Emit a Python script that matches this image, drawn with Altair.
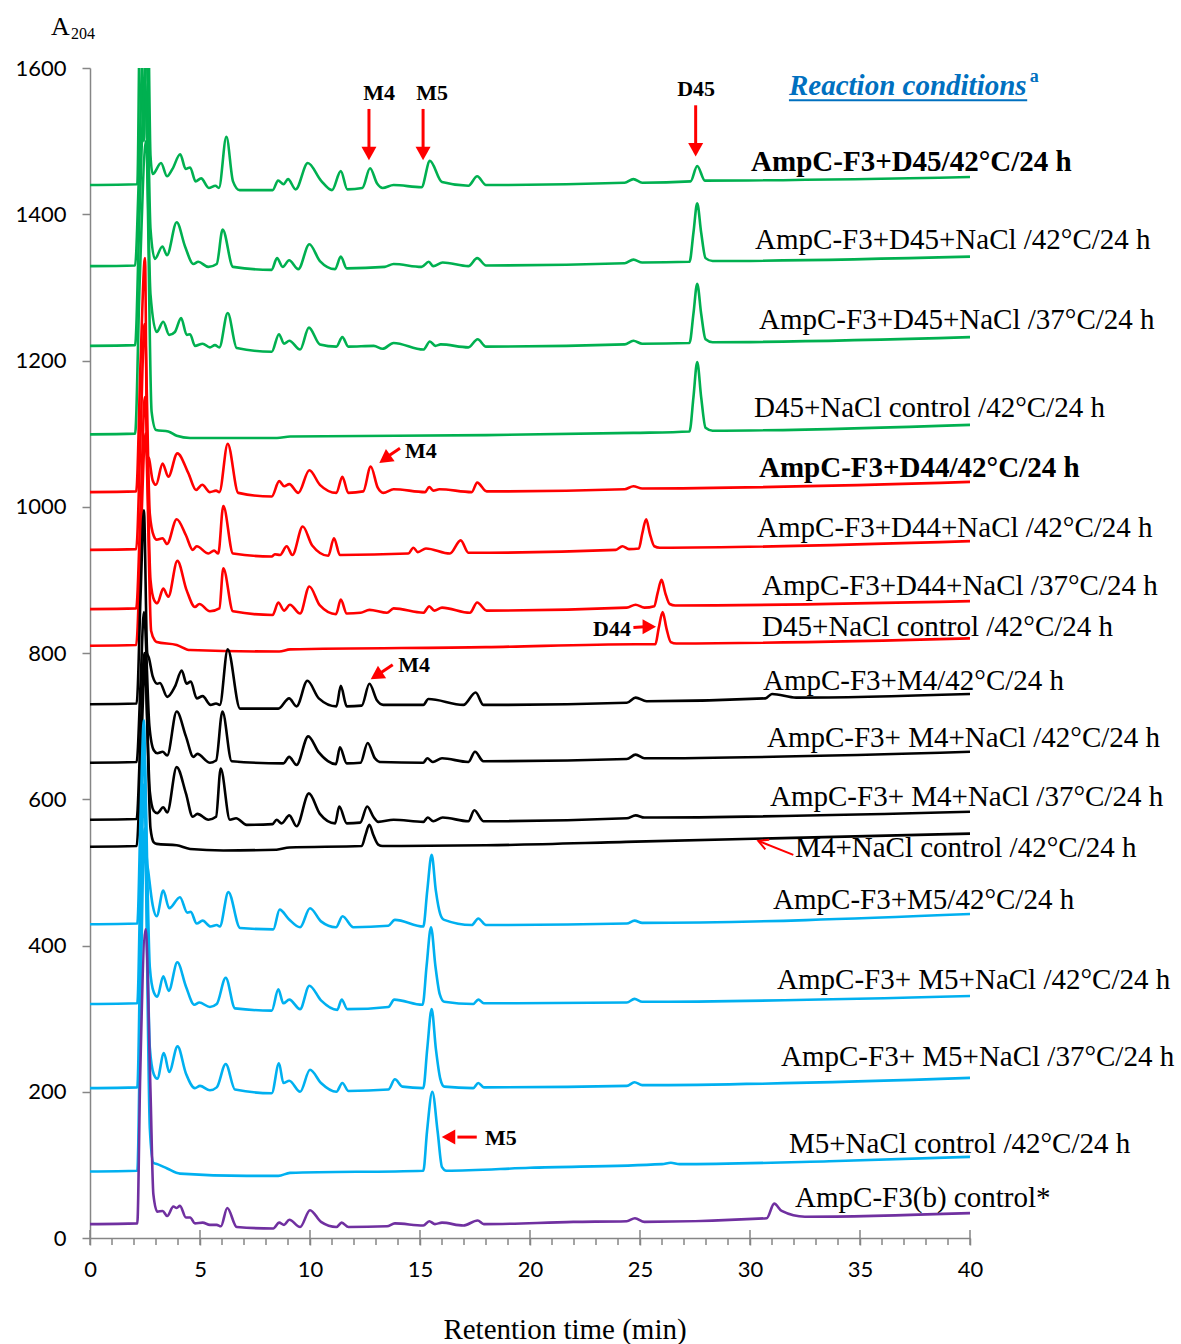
import altair as alt
import pandas as pd

# ---------------- data (time min, A204) ----------------
TRACE_IDS = ["t01", "t02", "t03", "t04", "t05", "t06", "t07", "t08", "t09",
             "t10", "t11", "t12", "t13", "t14", "t15", "t16", "t17"]
GREEN, RED, BLACK, BLUE, PURPLE = "#00B050", "#FF0000", "#000000", "#00B0F0", "#7030A0"
TRACE_COLORS = [GREEN] * 4 + [RED] * 4 + [BLACK] * 4 + [BLUE] * 4 + [PURPLE]

X_MAJOR = [0, 5, 10, 15, 20, 25, 30, 35, 40]
X_MINOR = list(range(0, 41))
Y_TICKS = [0, 200, 400, 600, 800, 1000, 1200, 1400, 1600]

T01 = [(0, 1440), (2.15, 1441), (2.3, 1750), (2.45, 1500), (2.6, 1750), (2.75, 1480), (2.85, 1455),
       (3.23, 1470), (3.5, 1452), (3.75, 1462), (4.1, 1482), (4.35, 1462), (4.55, 1464), (4.8, 1445),
       (5.05, 1449), (5.4, 1436), (5.7, 1439), (5.86, 1436), (6.2, 1506), (6.5, 1445), (6.8, 1433),
       (8.3, 1433), (8.55, 1446), (8.8, 1441), (9.0, 1448), (9.35, 1434), (9.9, 1470), (10.5, 1446),
       (11.0, 1433), (11.4, 1459), (11.7, 1434), (12.38, 1436), (12.73, 1463), (13.05, 1442),
       (13.3, 1436), (13.8, 1440),
       (15.07, 1437), (15.45, 1473), (16.0, 1444), (17.2, 1439), (17.6, 1452), (18.0, 1440),
       (24.3, 1443), (24.7, 1448), (25.1, 1443), (27.3, 1445), (27.6, 1466), (27.95, 1446), (40, 1451)]
T02 = [(0, 1329), (2.05, 1330), (2.22, 1450), (2.5, 1720), (2.75, 1380), (2.95, 1339),
       (3.29, 1356), (3.5, 1344), (3.94, 1389), (4.32, 1356), (4.7, 1332), (4.92, 1335), (5.38, 1328),
       (5.76, 1332), (6.03, 1379), (6.5, 1328), (8.26, 1324), (8.5, 1340), (8.76, 1328), (9.05, 1337),
       (9.47, 1325), (9.97, 1359), (10.45, 1336), (11.14, 1325), (11.4, 1342), (11.67, 1326),
       (13.4, 1328), (13.8, 1332), (15.07, 1328), (15.4, 1335), (15.6, 1329), (16.03, 1334),
       (17.2, 1329), (17.6, 1340), (18.0, 1330), (24.3, 1333), (24.7, 1338), (25.1, 1334),
       (27.25, 1335), (27.43, 1375), (27.6, 1415), (27.78, 1375), (27.98, 1340), (28.3, 1336), (40, 1342)]
T03 = [(0, 1220), (2.05, 1221), (2.25, 1400), (2.5, 1580), (2.75, 1290), (3.03, 1239),
       (3.33, 1253), (3.6, 1235), (3.86, 1239), (4.14, 1258), (4.4, 1235), (4.55, 1236), (4.77, 1220),
       (5.12, 1223), (5.45, 1218), (5.68, 1221), (5.88, 1218), (6.26, 1265), (6.67, 1217),
       (8.26, 1212), (8.59, 1236), (8.82, 1223), (9.06, 1227), (9.55, 1215), (9.95, 1245),
       (10.45, 1222), (11.2, 1219), (11.47, 1232), (11.74, 1219), (12.9, 1220), (13.3, 1216),
       (13.8, 1224), (15.15, 1215), (15.45, 1226), (15.7, 1220), (15.94, 1222), (17.2, 1218),
       (17.62, 1229), (18.0, 1219), (24.3, 1222), (24.7, 1227), (25.1, 1223),
       (27.25, 1224), (27.43, 1264), (27.6, 1305), (27.78, 1264), (27.98, 1229), (28.3, 1225), (40, 1232)]
T04 = [(0, 1099), (2.05, 1100), (2.25, 1300), (2.55, 1500), (2.8, 1130), (3.0, 1105),
       (3.56, 1103), (3.94, 1097), (4.55, 1094), (8.5, 1094), (9.1, 1096), (18, 1098), (24.7, 1101),
       (27.25, 1103), (27.43, 1150), (27.6, 1198), (27.78, 1150), (27.98, 1108), (28.3, 1104), (40, 1112)]
T05 = [(0, 1020), (2.1, 1021), (2.3, 1200), (2.5, 1340), (2.6, 1070), (2.68, 1066), (2.85, 1036),
       (3.0, 1030), (3.3, 1059), (3.56, 1041), (3.97, 1073), (4.47, 1046), (4.82, 1023), (5.1, 1030),
       (5.45, 1020), (5.73, 1022), (5.88, 1020), (6.26, 1086), (6.74, 1019), (8.26, 1014), (8.6, 1035),
       (8.83, 1028), (9.06, 1031), (9.47, 1019), (9.97, 1050), (10.45, 1030), (11.2, 1019),
       (11.47, 1041), (11.74, 1019), (12.42, 1021), (12.76, 1055), (13.08, 1026), (13.33, 1019),
       (13.8, 1024), (15.23, 1020),
       (15.42, 1027), (15.6, 1022), (15.88, 1024), (17.35, 1020), (17.6, 1033), (18.03, 1021),
       (24.3, 1024), (24.7, 1028), (25.1, 1025), (40, 1034)]
T06 = [(0, 941), (2.1, 942), (2.3, 1100), (2.48, 1250), (2.72, 990), (2.9, 960), (3.03, 955),
       (3.3, 957), (3.5, 949), (3.94, 983), (4.36, 961), (4.67, 941), (4.85, 946), (5.38, 936),
       (5.64, 940), (5.83, 936), (6.06, 1001), (6.5, 936), (8.26, 932), (8.4, 935), (8.64, 934),
       (8.94, 946), (9.2, 934), (9.67, 973), (10.1, 947), (10.83, 933), (11.09, 957), (11.36, 934),
       (14.47, 936), (14.7, 944), (14.9, 938), (15.27, 943), (16.36, 936), (16.85, 954), (17.2, 937),
       (23.9, 941), (24.2, 946), (24.5, 942), (24.95, 943), (25.1, 963), (25.28, 983), (25.45, 963),
       (25.65, 946), (25.9, 944), (40, 953)]
T07 = [(0, 860), (2.1, 861), (2.3, 1000), (2.5, 1150), (2.75, 900), (2.92, 872), (3.06, 868),
       (3.33, 888), (3.56, 877), (3.97, 926), (4.39, 886), (4.77, 863), (4.97, 867), (5.45, 857),
       (5.88, 861), (6.06, 916), (6.5, 857), (8.3, 852), (8.56, 869), (8.82, 858), (9.09, 866),
       (9.55, 854), (9.97, 891), (10.45, 865), (11.18, 853), (11.4, 873), (11.67, 854), (12.3, 855),
       (12.7, 859), (13.5, 855), (13.8, 861), (15.15, 855), (15.42, 864), (15.65, 858), (16.0, 862),
       (17.27, 855), (17.6, 869), (18.03, 858), (24.4, 862), (24.8, 866), (25.2, 862),
       (25.65, 864), (25.8, 882), (25.98, 900), (26.15, 882), (26.35, 867), (26.6, 865), (40, 871)]
T08 = [(0, 810), (2.1, 811), (2.3, 950), (2.52, 1100), (2.78, 830), (2.95, 817), (3.03, 815),
       (3.94, 811), (4.55, 804), (8.6, 802), (9.1, 805), (18, 808), (24.8, 812),
       (25.7, 812), (25.85, 834), (26.03, 856), (26.2, 834), (26.4, 815), (26.65, 813), (40, 820)]
T09 = [(0, 730), (2.12, 731), (2.3, 880), (2.45, 995), (2.6, 800), (2.68, 793), (2.85, 768),
       (3.06, 758), (3.18, 759), (3.51, 740), (3.86, 754), (4.17, 776), (4.39, 758), (4.58, 761),
       (4.85, 738), (5.12, 741), (5.48, 729), (5.73, 731), (5.9, 729), (6.26, 805), (6.82, 724),
       (8.56, 724), (9.05, 738), (9.39, 727), (9.88, 762), (10.4, 738), (11.2, 727), (11.4, 755),
       (11.67, 727), (12.35, 728), (12.7, 758), (13.05, 735), (13.33, 729), (15.15, 729),
       (15.38, 737), (16.97, 729),
       (17.53, 746), (17.88, 729), (24.4, 732), (24.8, 739), (25.3, 734), (30.7, 738), (31.0, 744),
       (32.1, 739), (40, 744)]
T10 = [(0, 650), (2.12, 651), (2.3, 760), (2.45, 856), (2.7, 700), (2.9, 667), (3.06, 663),
       (3.3, 665), (3.51, 660), (3.94, 720), (4.36, 686), (4.7, 658), (4.88, 662), (5.45, 650),
       (5.73, 653), (6.02, 720), (6.44, 652), (8.79, 649), (9.05, 658), (9.39, 647), (9.92, 686),
       (10.4, 664), (11.18, 648), (11.36, 671), (11.67, 649), (12.3, 650), (12.62, 677),
       (12.95, 656), (13.18, 651),
       (15.15, 650), (15.33, 656), (15.58, 651), (16.0, 656), (17.2, 651), (17.5, 665), (17.88, 652),
       (24.4, 655), (24.8, 661), (25.2, 656), (40, 665)]
T11 = [(0, 572), (2.12, 573), (2.3, 690), (2.47, 800), (2.72, 610), (2.9, 584), (3.06, 581),
       (3.33, 589), (3.51, 582), (3.94, 644), (4.36, 608), (4.67, 576), (4.88, 580), (5.38, 572),
       (5.73, 576), (5.94, 642), (6.36, 572), (6.64, 574), (7.12, 565), (8.3, 566), (8.48, 572),
       (8.71, 567), (9.06, 578), (9.39, 563), (9.95, 608), (10.45, 580), (11.14, 567), (11.33, 590),
       (11.67, 567), (12.28, 568), (12.6, 590), (12.9, 575), (13.1, 569), (13.8, 572),
       (15.15, 569), (15.35, 575), (15.6, 570),
       (16.03, 575), (17.2, 570), (17.47, 585), (17.88, 570), (24.4, 574), (24.8, 578), (25.2, 575),
       (40, 583)]
T12 = [(0, 535), (2.12, 536), (2.3, 650), (2.5, 780), (2.75, 560), (2.9, 541), (3.03, 539),
       (3.94, 537), (4.55, 532), (6.06, 530), (8.48, 531), (9.06, 534), (12.35, 536), (12.52, 551),
       (12.7, 565), (12.88, 551), (13.1, 538), (13.3, 536), (18, 537), (24.8, 542), (40, 553)]
T13 = [(0, 429), (2.15, 430), (2.3, 580), (2.45, 708), (2.58, 520), (2.66, 499), (2.85, 455),
       (3.03, 440), (3.33, 475), (3.6, 451), (4.09, 466), (4.42, 445), (4.58, 446), (4.85, 430),
       (5.12, 434), (5.48, 426), (5.76, 428), (5.9, 426), (6.29, 473), (6.82, 424), (8.33, 422),
       (8.62, 449), (9.04, 436), (9.55, 425), (10.0, 451), (10.5, 433), (11.18, 425), (11.48, 440),
       (11.97, 425), (13.56, 427), (13.86, 435), (15.15, 426), (15.33, 475), (15.53, 524),
       (15.72, 475), (15.92, 443), (16.1, 435), (17.35, 428), (17.65, 437), (18.0, 428),
       (24.4, 430), (24.75, 434), (25.1, 431), (40, 443)]
T14 = [(0, 320), (2.15, 321), (2.3, 500), (2.45, 670), (2.72, 370), (2.9, 336), (3.06, 330),
       (3.33, 358), (3.58, 338), (3.97, 377), (4.36, 344), (4.74, 319), (4.97, 322), (5.45, 316),
       (5.76, 320), (6.17, 356), (6.59, 314), (8.26, 311), (8.56, 340), (8.79, 321), (9.06, 326),
       (9.55, 313), (9.97, 345), (10.5, 325), (11.24, 312), (11.44, 326), (11.7, 313), (13.56, 316),
       (13.83, 326), (15.12, 319), (15.3, 372), (15.5, 425), (15.7, 372), (15.9, 333), (16.1, 323),
       (17.42, 320), (17.65, 326), (17.9, 321), (24.4, 322), (24.75, 327), (25.1, 323), (40, 331)]
T15 = [(0, 205), (2.15, 206), (2.3, 420), (2.45, 620), (2.72, 260), (2.9, 224), (3.06, 218),
       (3.36, 253), (3.6, 227), (3.98, 262), (4.36, 225), (4.77, 205), (5.0, 208), (5.45, 202),
       (5.76, 206), (6.17, 238), (6.59, 203), (8.26, 198), (8.59, 239), (8.79, 212), (9.06, 215),
       (9.55, 200), (10.0, 230), (10.5, 212), (11.2, 200), (11.47, 212), (11.75, 201), (13.56, 203),
       (13.86, 217), (14.2, 207), (15.15, 205), (15.33, 259), (15.53, 313), (15.72, 259),
       (15.92, 218), (16.1, 207), (17.42, 205), (17.65, 212), (17.9, 206), (24.4, 208),
       (24.75, 213), (25.1, 209), (40, 219)]
T16 = [(0, 91), (2.15, 92), (2.3, 330), (2.48, 560), (2.72, 150), (2.88, 103), (3.06, 101),
       (3.51, 95), (4.09, 88), (7.12, 85), (8.56, 85), (9.09, 89), (15.15, 92), (15.32, 146),
       (15.56, 200), (15.8, 146), (16.0, 97), (16.2, 92), (20, 96), (26.0, 101), (26.4, 103),
       (26.8, 101), (33.6, 105), (40, 111)]
T17 = [(0, 19), (2.15, 20), (2.28, 220), (2.53, 422), (2.75, 200), (2.88, 60), (3.06, 36),
       (3.3, 37), (3.51, 30), (3.79, 43), (3.94, 41), (4.09, 44), (4.36, 28), (4.55, 28), (4.77, 20),
       (5.12, 21), (5.45, 18), (5.76, 18), (5.95, 16), (6.24, 41), (6.67, 15), (8.33, 13), (8.6, 21),
       (8.82, 18), (9.06, 25), (9.55, 15), (10.0, 38), (10.5, 22), (11.2, 15), (11.44, 21),
       (11.75, 15), (13.5, 16), (13.86, 20), (15.15, 17), (15.42, 23), (15.68, 19), (16.0, 21),
       (16.97, 17), (17.62, 24), (17.9, 19), (21.97, 22), (24.4, 23), (24.77, 27), (25.2, 22),
       (30.76, 27), (31.1, 47), (31.44, 37), (32.5, 29), (40, 34)]

TRACES = [T01, T02, T03, T04, T05, T06, T07, T08, T09, T10, T11, T12, T13, T14, T15, T16, T17]

# trace labels (text, anchor time, anchor value, bold)
LABELS = [
    ("AmpC-F3+D45/42°C/24 h", 30.05, 1471, True),
    ("AmpC-F3+D45+NaCl /42°C/24 h", 30.23, 1365, False),
    ("AmpC-F3+D45+NaCl /37°C/24 h", 30.41, 1255, False),
    ("D45+NaCl control /42°C/24 h", 30.18, 1135, False),
    ("AmpC-F3+D44/42°C/24 h", 30.41, 1053, True),
    ("AmpC-F3+D44+NaCl /42°C/24 h", 30.32, 971, False),
    ("AmpC-F3+D44+NaCl /37°C/24 h", 30.55, 892, False),
    ("D45+NaCl control /42°C/24 h", 30.55, 836, False),
    ("AmpC-F3+M4/42°C/24 h", 30.59, 762, False),
    ("AmpC-F3+ M4+NaCl /42°C/24 h", 30.77, 684, False),
    ("AmpC-F3+ M4+NaCl /37°C/24 h", 30.91, 603, False),
    ("M4+NaCl control /42°C/24 h", 32.05, 533, False),
    ("AmpC-F3+M5/42°C/24 h", 31.05, 462, False),
    ("AmpC-F3+ M5+NaCl /42°C/24 h", 31.23, 353, False),
    ("AmpC-F3+ M5+NaCl /37°C/24 h", 31.41, 247, False),
    ("M5+NaCl control /42°C/24 h", 31.77, 128, False),
    ("AmpC-F3(b) control*", 32.05, 55, False),
]

# peak markers: (text, time, value, align)
MARK_TEXT = [
    ("M4", 13.14, 1566, "center"), ("M5", 15.55, 1566, "center"), ("D45", 27.55, 1571, "center"),
    ("M4", 14.32, 1076, "left"), ("M4", 14.01, 784, "left"), ("D44", 24.59, 833, "right"),
    ("M5", 17.95, 137, "left"),
]
# arrow shafts: (t_start, v_start, t_end, v_end)
SHAFTS = [
    (12.68, 1544, 12.68, 1488), (15.14, 1544, 15.14, 1488), (27.53, 1549, 27.53, 1493),
    (14.09, 1080, 13.6, 1070), (13.76, 784, 13.22, 773), (24.70, 835, 25.2, 836),
    (17.58, 138, 16.7, 138),
]
# arrow heads: (tip time, tip value, angle)
HEADS = [
    (12.68, 1474, 180), (15.14, 1474, 180), (27.53, 1479, 180),
    (13.15, 1060, 234.5), (12.76, 764, 237), (25.73, 836, 90), (15.99, 138, 270),
]
OPEN_SHAFT = [(31.97, 524, 30.38, 543)]
OPEN_HEAD = [(30.38, 543, 291.8)]

# ---------------- build chart ----------------
rows = []
for tid, pts in zip(TRACE_IDS, TRACES):
    for t, v in pts:
        rows.append({"trace": tid, "t": t, "v": v})
df = pd.DataFrame(rows)

W, H = 880, 1170
SERIF = "Liberation Serif"
AXIS_GRAY = "#868686"

xs = alt.Scale(domain=[0, 40], nice=False, zero=False)
ys = alt.Scale(domain=[0, 1600], nice=False)

lines = alt.Chart(df).mark_line(clip=True, interpolate="monotone", strokeWidth=2.6).encode(
    x=alt.X("t:Q", scale=xs, title=None,
            axis=alt.Axis(values=X_MAJOR, grid=False, tickSize=7, tickWidth=1.5,
                          domainWidth=1.5, domainColor=AXIS_GRAY, tickColor=AXIS_GRAY,
                          labelOverlap=False, format="d",
                          labelFont="Lato", labelFontSize=22, labelColor="#000000",
                          labelPadding=14, labelFlush=False)),
    y=alt.Y("v:Q", scale=ys, title=None,
            axis=alt.Axis(values=Y_TICKS, grid=False, tickSize=8, tickWidth=1.5,
                          domainWidth=1.5, domainColor=AXIS_GRAY, tickColor=AXIS_GRAY,
                          format="d", labelOverlap=False,
                          labelFont="Lato", labelFontSize=22, labelColor="#000000",
                          labelPadding=16, labelFlush=False)),
    color=alt.Color("trace:N", scale=alt.Scale(domain=TRACE_IDS, range=TRACE_COLORS), legend=None),
    order=alt.Order("t:Q"),
)

major = alt.Chart(pd.DataFrame({"t": X_MAJOR})).mark_rule(
    color=AXIS_GRAY, strokeWidth=1.5).encode(x="t:Q", y=alt.value(H - 8), y2=alt.value(H))
minor = alt.Chart(pd.DataFrame({"t": X_MINOR})).mark_rule(
    color=AXIS_GRAY, strokeWidth=1.5).encode(x="t:Q", y=alt.value(H), y2=alt.value(H + 7))

lab_df = pd.DataFrame([{"text": a, "t": b, "v": c, "bold": d} for a, b, c, d in LABELS])
lab_norm = alt.Chart(lab_df[~lab_df.bold]).mark_text(
    align="left", baseline="middle", font=SERIF, fontSize=29, color="#000000").encode(
    x="t:Q", y="v:Q", text="text:N")
lab_bold = alt.Chart(lab_df[lab_df.bold]).mark_text(
    align="left", baseline="middle", font=SERIF, fontSize=29, fontWeight="bold",
    color="#000000").encode(x="t:Q", y="v:Q", text="text:N")

mt_df = pd.DataFrame([{"text": a, "t": b, "v": c, "al": d} for a, b, c, d in MARK_TEXT])
mark_layers = []
for al in ["left", "center", "right"]:
    sub = mt_df[mt_df.al == al]
    mark_layers.append(alt.Chart(sub).mark_text(
        align=al, baseline="middle", font=SERIF, fontSize=22, fontWeight="bold",
        color="#000000").encode(x="t:Q", y="v:Q", text="text:N"))

sh_df = pd.DataFrame([{"t": a, "v": b, "t2": c, "v2": d} for a, b, c, d in SHAFTS])
shafts = alt.Chart(sh_df).mark_rule(color=RED, strokeWidth=3).encode(
    x="t:Q", y="v:Q", x2="t2:Q", y2="v2:Q")
hd_df = pd.DataFrame([{"t": a, "v": b, "ang": c} for a, b, c in HEADS])
heads = alt.Chart(hd_df).mark_point(
    shape="M0,0L1.5,2.7L-1.5,2.7Z", filled=True, size=100, color=RED, opacity=1,
    strokeWidth=0).encode(x="t:Q", y="v:Q", angle=alt.Angle("ang:Q", scale=None))

osh_df = pd.DataFrame([{"t": a, "v": b, "t2": c, "v2": d} for a, b, c, d in OPEN_SHAFT])
oshaft = alt.Chart(osh_df).mark_rule(color=RED, strokeWidth=2).encode(
    x="t:Q", y="v:Q", x2="t2:Q", y2="v2:Q")
ohd_df = pd.DataFrame([{"t": a, "v": b, "ang": c} for a, b, c in OPEN_HEAD])
ohead = alt.Chart(ohd_df).mark_point(
    shape="M-1.3,2.4L0,0L1.3,2.4", filled=False, size=64, color=RED, opacity=1,
    strokeWidth=2).encode(x="t:Q", y="v:Q", angle=alt.Angle("ang:Q", scale=None))

BLUE_TXT = "#0070C0"
rc = alt.Chart(pd.DataFrame({"text": ["Reaction conditions"], "t": [31.77], "v": [1575]})).mark_text(
    align="left", baseline="middle", font=SERIF, fontSize=29, fontWeight="bold",
    fontStyle="italic", color=BLUE_TXT).encode(x="t:Q", y="v:Q", text="text:N")
rc_sup = alt.Chart(pd.DataFrame({"text": ["a"], "t": [42.72], "v": [1588]})).mark_text(
    align="left", baseline="middle", font=SERIF, fontSize=18, fontWeight="bold",
    color=BLUE_TXT).encode(x="t:Q", y="v:Q", text="text:N")
rc_line = alt.Chart(pd.DataFrame({"t": [31.77], "t2": [42.6], "v": [1556]})).mark_rule(
    color=BLUE_TXT, strokeWidth=2).encode(x="t:Q", x2="t2:Q", y="v:Q")

xtitle = alt.Chart(pd.DataFrame({"text": ["Retention time (min)"]})).mark_text(
    align="center", baseline="middle", font=SERIF, fontSize=29, color="#000000").encode(
    x=alt.value(475), y=alt.value(1262), text="text:N")
ytitle_a = alt.Chart(pd.DataFrame({"text": ["A"]})).mark_text(
    align="left", baseline="alphabetic", font=SERIF, fontSize=26, color="#000000").encode(
    x=alt.value(-39), y=alt.value(-33), text="text:N")
ytitle_sub = alt.Chart(pd.DataFrame({"text": ["204"]})).mark_text(
    align="left", baseline="alphabetic", font=SERIF, fontSize=16, color="#000000").encode(
    x=alt.value(-19), y=alt.value(-29), text="text:N")

chart = alt.layer(
    lines, major, minor, lab_norm, lab_bold, *mark_layers, shafts, heads, oshaft, ohead,
    rc, rc_sup, rc_line, xtitle, ytitle_a, ytitle_sub
).properties(
    width=W, height=H,
    autosize=alt.AutoSizeParams(type="none"),
    padding={"left": 90, "top": 68, "right": 211, "bottom": 106},
    background="#ffffff",
).configure_view(stroke=None)

chart.save("out.html", embed_options={"renderer": "svg", "actions": False})
